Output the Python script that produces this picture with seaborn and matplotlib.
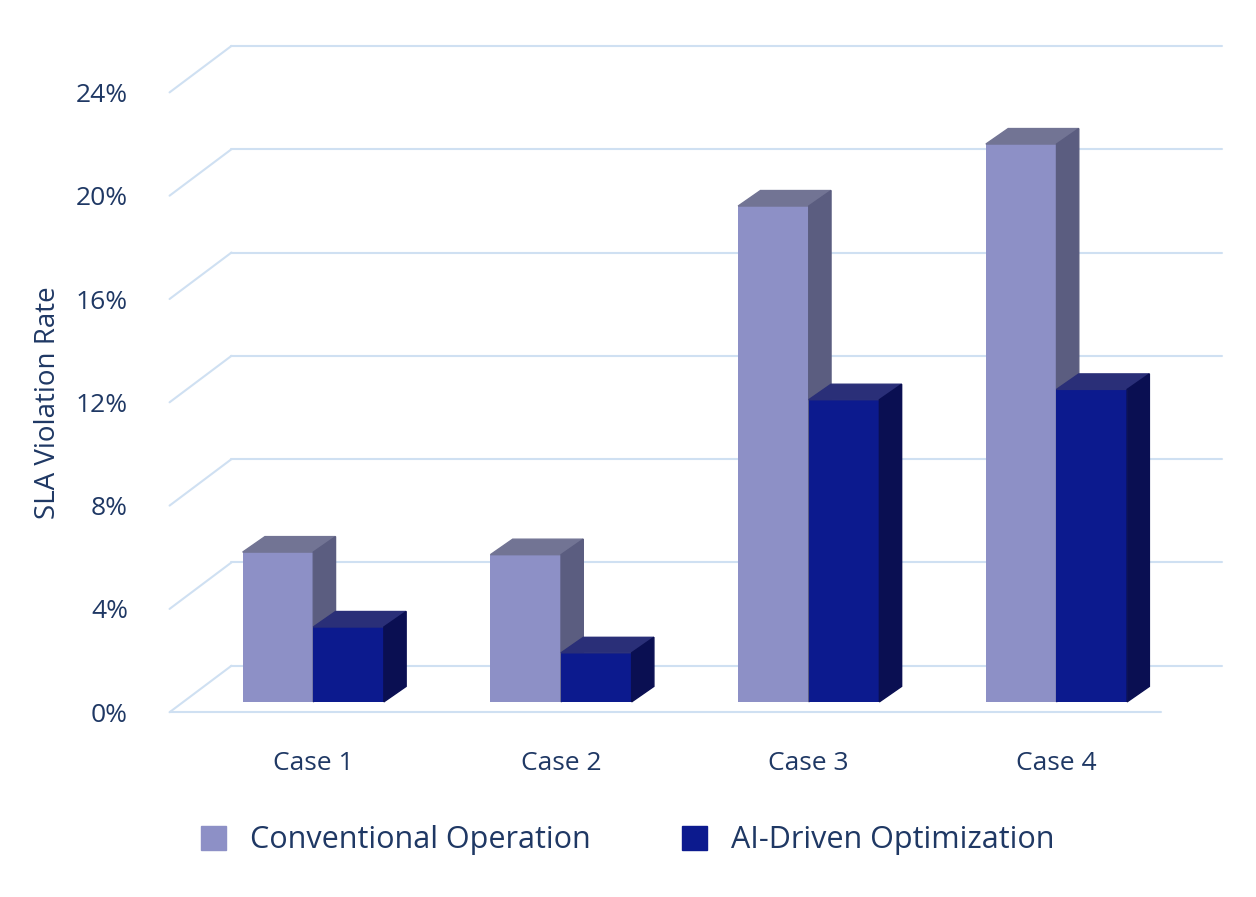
import numpy as np
import pandas as pd
import matplotlib
matplotlib.use("Agg")
import matplotlib.pyplot as plt
from matplotlib.patches import Polygon
import seaborn as sns

cases = ["Case 1", "Case 2", "Case 3", "Case 4"]
conventional = [5.8, 5.7, 19.2, 21.6]
ai_driven = [2.9, 1.9, 11.7, 12.1]
series = ["Conventional Operation", "AI-Driven Optimization"]
yticks = [0, 4, 8, 12, 16, 20, 24]

front_colors = {series[0]: "#8d90c6", series[1]: "#0c1a8e"}
side_colors = {series[0]: "#5b5d80", series[1]: "#0a0f52"}
top_colors = {series[0]: "#727494", series[1]: "#2a2f78"}
text_color = "#1f3864"
grid_color = "#cfe0f2"

df = pd.DataFrame({
    "case": cases * 2,
    "value": conventional + ai_driven,
    "series": [series[0]] * 4 + [series[1]] * 4,
})

sns.set_theme(style="white")
plt.rcParams["font.family"] = ["Open Sans", "DejaVu Sans"]

fig = plt.figure(figsize=(12.56, 8.97), dpi=100)
ax = fig.add_axes([0.135, 0.206, 0.789, 0.691])

sns.barplot(data=df, x="case", y="value", hue="series", palette=front_colors,
            width=0.57, ax=ax, legend=False, saturation=1, edgecolor="none")

xmin, xmax = -0.58, 3.42
ax.set_xlim(xmin, xmax)
ax.set_ylim(0, 24)

# back wall with perspective offset
wall_dx, wall_dy = 0.25, 1.8
for t in yticks:
    ax.plot([xmin + wall_dx, xmax + wall_dx], [t + wall_dy] * 2, color=grid_color,
            lw=1.5, zorder=0, clip_on=False)
    ax.plot([xmin, xmin + wall_dx], [t, t + wall_dy], color=grid_color,
            lw=1.5, zorder=0, clip_on=False)
ax.plot([xmin, xmax], [0, 0], color=grid_color, lw=1.5, zorder=0, clip_on=False)

# 3D depth faces for each bar
dx, dy = 0.09, 0.6
for i, p in enumerate(ax.patches):
    name = series[0] if i < 4 else series[1]
    z = 2 if name == series[0] else 3
    x0, w, h = p.get_x(), p.get_width(), p.get_height()
    y0 = 0.4
    p.set_y(y0)
    p.set_zorder(z)
    top = [(x0, y0 + h), (x0 + w, y0 + h), (x0 + w + dx, y0 + h + dy), (x0 + dx, y0 + h + dy)]
    side = [(x0 + w, y0), (x0 + w + dx, y0 + dy), (x0 + w + dx, y0 + h + dy), (x0 + w, y0 + h)]
    ax.add_patch(Polygon(top, closed=True, color=top_colors[name], zorder=z, clip_on=False))
    ax.add_patch(Polygon(side, closed=True, color=side_colors[name], zorder=z, clip_on=False))

ax.set_yticks(yticks)
ax.set_yticklabels([f"{t}%" for t in yticks], color=text_color, fontsize=19)
ax.tick_params(axis="y", length=0, pad=30)
ax.tick_params(axis="x", length=0, pad=28, labelsize=19, labelcolor=text_color)
ax.set_xlabel("")
ax.set_ylabel("SLA Violation Rate", color=text_color, fontsize=20, labelpad=10)
for s in ax.spines.values():
    s.set_visible(False)
ax.grid(False)

handles = [plt.Rectangle((0, 0), 1, 1, color=front_colors[s]) for s in series]
fig.legend(handles, series, loc="center", bbox_to_anchor=(0.5, 0.063), ncol=2,
           frameon=False, fontsize=22, handlelength=0.8, handleheight=0.8,
           columnspacing=3, labelcolor=text_color)

fig.savefig("out.png", dpi=100)
